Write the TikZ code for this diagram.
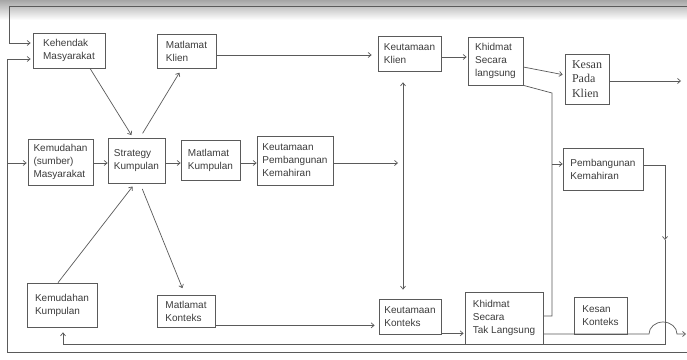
\documentclass[tikz,border=0pt]{standalone}
\usepackage{fontspec}
\setmainfont{Liberation Sans}
\newfontfamily\serifkesan{Liberation Serif}
\usepackage{xcolor}
\usepackage{tikz}
\usetikzlibrary{calc,arrows.meta,positioning}
\definecolor{ink}{HTML}{3C3C3C}
\definecolor{wire}{HTML}{5A5A5A}
\definecolor{paper}{HTML}{FFFFFF}
\tikzset{
  box/.style={draw=wire, line width=0.7pt, text=ink, font=\fontsize{10}{13}\selectfont, align=left, inner sep=3pt},
  ln/.style={draw=wire, line width=0.7pt, line join=miter},
  arr/.style={ln, -{Straight Barb[length=3pt,width=5pt]}},
  dbl/.style={ln, {Straight Barb[length=3pt,width=5pt]}-{Straight Barb[length=3pt,width=5pt]}},
}
\begin{document}
\begin{tikzpicture}[x=1pt,y=-1pt]
\useasboundingbox (0,0) rectangle (687,359);
\fill[paper] (0,0) rectangle (687,359);
\shade[top color=black!35, bottom color=paper] (0,0) rectangle (687,20);

\node[box, minimum width=72pt, minimum height=35pt] (kehendak) at (69,50.5) {Kehendak\\Masyarakat};
\node[box, minimum width=59pt, minimum height=34pt] (mklien) at (186.5,51) {Matlamat\\Klien};
\node[box, minimum width=63pt, minimum height=35pt] (kklien) at (409.5,53.5) {Keutamaan\\Klien};
\node[box, minimum width=55pt, minimum height=48pt] (langsung) at (495.5,61) {Khidmat\\Secara\\langsung};
\node[box, font=\serifkesan\fontsize{12}{14.5}\selectfont, minimum width=44pt, minimum height=50pt] (kesanklien) at (587,79) {Kesan\\Pada\\Klien};

\node[box, minimum width=65pt, minimum height=46pt] (sumber) at (60.5,162) {Kemudahan\\(sumber)\\Masyarakat};
\node[box, minimum width=57pt, minimum height=45pt] (strategy) at (136.5,160.5) {Strategy\\Kumpulan};
\node[box, minimum width=59pt, minimum height=40pt] (mkumpulan) at (210.5,160) {Matlamat\\Kumpulan};
\node[box, minimum width=76pt, minimum height=49pt] (kpemb) at (295,160.5) {Keutamaan\\Pembangunan\\Kemahiran};
\node[box, minimum width=80pt, minimum height=42pt] (pemb) at (603,169) {Pembangunan\\Kemahiran};

\node[box, minimum width=70pt, minimum height=44pt] (kkumpulan) at (62,305) {Kemudahan\\Kumpulan};
\node[box, minimum width=58pt, minimum height=32pt] (mkonteks) at (186,311) {Matlamat\\Konteks};
\node[box, minimum width=62pt, minimum height=35pt] (kkonteks) at (410,316.5) {Keutamaan\\Konteks};
\node[box, minimum width=78pt, minimum height=52pt] (taklangsung) at (504,318) {Khidmat\\Secara\\Tak Langsung};
\node[box, minimum width=53pt, minimum height=37pt] (kkesan) at (600.5,315.5) {Kesan\\Konteks};

\coordinate (tedge) at (687,6);
\coordinate (tcorner) at (9,6);
\coordinate (tdown) at (9,43);
\coordinate (bedge) at (687,352);
\coordinate (lcorner) at (7,352);
\coordinate (ltop) at (7,59);
\coordinate (lmid) at (7,163);
\coordinate (vsplit) at (398,163);
\coordinate (kout) at (681,81);
\coordinate (bendA) at (552,93);
\coordinate (bendB) at (552,316);
\coordinate (humpL) at (649,334);
\coordinate (rout) at (686,334);
\coordinate (rtop) at (665,165);
\coordinate (rmid) at (665,240);
\coordinate (rbot) at (665,344);
\coordinate (lbot) at (63,344);
\coordinate (mkout) at ($(mklien.east)+(0,4)$);
\coordinate (kkout) at ($(kklien.east)+(0,3.5)$);
\coordinate (lgout) at ($(langsung.east)+(0,6)$);
\coordinate (kpin) at ($(kesanklien.west)+(0,-4)$);
\coordinate (kpout) at ($(kesanklien.east)+(0,2)$);
\coordinate (dblx) at ($(kklien.south)+(-6.5,0)$);
\coordinate (mkoout) at ($(mkonteks.south east)+(0,-2)$);
\coordinate (kkoout) at ($(kkonteks.south east)+(0,-1)$);
\coordinate (pembin) at ($(pemb.west)+(0,-5)$);
\coordinate (pembout) at ($(pemb.east)+(0,-4)$);
\coordinate (tlout) at ($(taklangsung.east)+(0,16)$);
\coordinate (tlup) at ($(taklangsung.east)+(0,-2)$);

\draw[arr, shorten >=2pt] (tedge) -- (tcorner) -- (tdown) -- (tdown -| kehendak.west);
\draw[arr, shorten >=2pt] (bedge) -- (lcorner) -- (ltop) -- (ltop -| kehendak.west);
\draw[arr, shorten >=1pt] (lmid) -- (lmid -| sumber.west);

\draw[arr, shorten >=3pt] ([xshift=21pt]kehendak.south) -- ([xshift=-3.5pt]strategy.north);
\draw[arr, shorten <=5pt, shorten >=5pt] ([xshift=3.5pt]strategy.north) -- ([xshift=-4.5pt]mklien.south);
\draw[arr, shorten >=4pt] ([xshift=-4pt]kkumpulan.north) -- ([xshift=-1.5pt]strategy.south);
\draw[arr, shorten <=6pt, shorten >=7pt] ([xshift=3.5pt]strategy.south) -- ([xshift=-1pt]mkonteks.north);

\draw[arr] (sumber.east |- lmid) -- (strategy.west |- lmid);
\draw[arr] (strategy.east |- lmid) -- (mkumpulan.west |- lmid);
\draw[arr] (mkumpulan.east |- lmid) -- (kpemb.west |- lmid);
\draw[arr] (kpemb.east |- lmid) -- (vsplit);

\draw[arr, shorten >=6pt] (mkout) -- (mkout -| kklien.west);
\draw[arr, shorten >=1pt] (kkout) -- (kkout -| langsung.west);
\draw[arr, shorten >=2pt] (lgout) -- (kpin);
\draw[arr] (kpout) -- (kout);
\draw[dbl, shorten <=11pt, shorten >=9pt] (dblx) -- (dblx |- kkonteks.north);

\draw[arr, shorten >=4pt] (mkoout) -- (mkoout -| kkonteks.west);
\draw[arr, shorten >=1pt] (kkoout) -- (kkoout -| taklangsung.west);

\draw[ln] (langsung.south east) -- (bendA) -- (bendB) -- (tlup);
\draw[arr] (pembin -| bendA) -- (pembin);
\draw[arr] (tlout) -- (humpL) arc[start angle=180, end angle=0, x radius=14pt, y radius=12pt] -- (rout);

\draw[arr] (pembout) -- (rtop) -- (rmid);
\draw[arr, shorten >=5pt] (rmid) -- (rbot) -- (lbot) -- (lbot |- kkumpulan.south);
\end{tikzpicture}
\end{document}
